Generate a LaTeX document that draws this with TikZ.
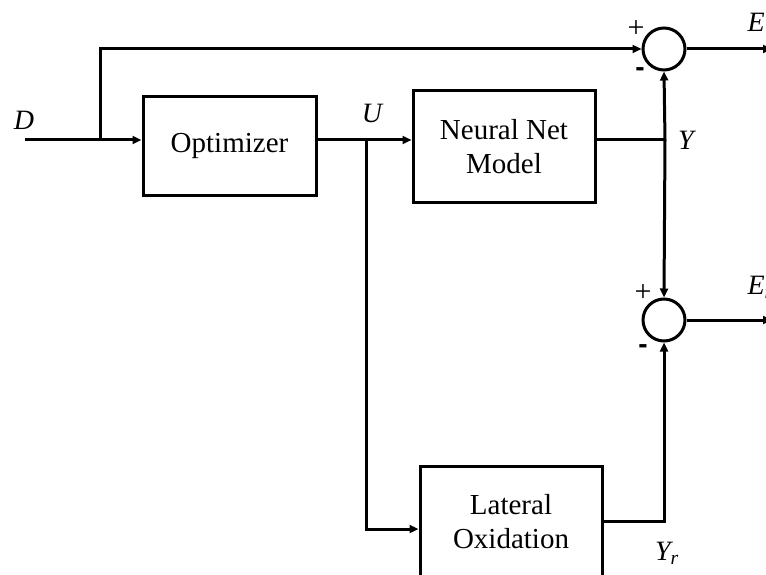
\documentclass[tikz,border=0pt]{standalone}
\usepackage{fontspec}
\setmainfont{Liberation Serif}
\newfontfamily\sansb{Liberation Sans}
\usetikzlibrary{arrows.meta}
\begin{document}
\begin{tikzpicture}[x=1pt,y=-1pt,line width=3pt,
  >={Triangle[length=9pt,width=8pt]},
  blk/.style={draw,line width=3pt,inner sep=0pt,align=center,font=\fontsize{29}{34}\selectfont},
  sum/.style={draw,circle,line width=3pt,minimum size=42pt,inner sep=0pt},
  lab/.style={font=\fontsize{28}{32}\selectfont\itshape,inner sep=0pt},
  plus/.style={font=\fontsize{30}{34}\selectfont,inner sep=0pt},
  minus/.style={font=\fontsize{28}{32}\selectfont\sansb\bfseries,inner sep=0pt}]
\useasboundingbox (0,0) rectangle (766,575);
\clip (0,0) rectangle (766,575);

% blocks
\node[blk,minimum width=173pt,minimum height=98pt] (opt) at (229.5,146) {Optimizer};
\node[blk,minimum width=182pt,minimum height=111pt] (nn) at (504,146.5) {Neural Net\\Model};
\node[blk,minimum width=182pt,minimum height=111pt] (lat) at (511,521.5) {Lateral\\Oxidation};

% summing junctions
\node[sum] (s1) at (664,49) {};
\node[sum] (s2) at (664,320) {};

% helper coordinates
\coordinate (in) at (25,140);
\coordinate (br1) at (100,140);
\coordinate (br2) at (366,140);
\coordinate (yj) at (665,140);
\coordinate (o1) at (772,49);
\coordinate (o2) at (772,320);

% connectors
\draw[->] (in) -- (opt.west |- in);
\draw[->] (br1) |- (s1.west);
\draw[->] (opt.east |- in) -- (nn.west |- in);
\draw[->] (br2) |- ([yshift=-7.5pt]lat.west);
\draw (nn.east |- yj) -- (yj);
\draw[->] (yj) -- (s1.south);
\draw[->] (yj) -- (s2.north);
\draw[->] (lat.east) -| (s2.south);
\draw[->] (s1.east) -- (o1);
\draw[->] (s2.east) -- (o2);

% labels
\node[lab] (lD) at (24,120) {D};
\node[lab] (lU) at (372,113) {U};
\node[lab] (lY) at (686,140) {Y};
\node[lab] (lYr) at (667,553) {Y\textsubscript{r}};
\node[lab,anchor=west] (lE1) at (746,22) {E};
\node[lab,anchor=west] (lE2) at (746,287) {E\textsubscript{r}};

\node[plus] (p1) at (636,29) {+};
\node[minus] (m1) at (640,72) {-};
\node[plus] (p2) at (643,293) {+};
\node[minus] (m2) at (643,349) {-};
\end{tikzpicture}
\end{document}
